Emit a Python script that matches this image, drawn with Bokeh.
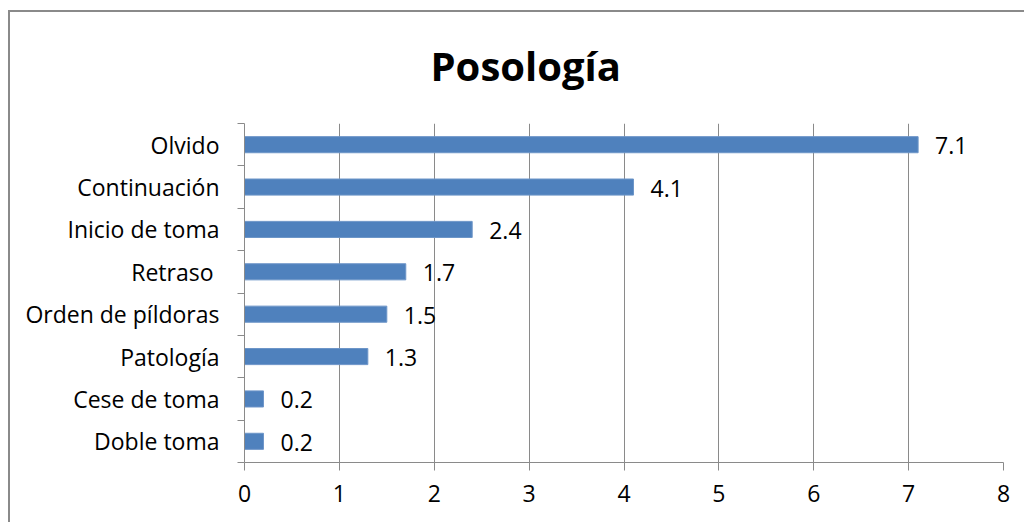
import numpy as np
from bokeh.plotting import figure
from bokeh.models import Range1d, FixedTicker, ColumnDataSource, InlineStyleSheet
from bokeh.core.properties import value
from bokeh.embed import file_html
from bokeh.resources import INLINE

categories = ["Olvido", "Continuación", "Inicio de toma", "Retraso ", "Orden de píldoras",
              "Patología", "Cese de toma", "Doble toma"]
values = [7.1, 4.1, 2.4, 1.7, 1.5, 1.3, 0.2, 0.2]
value_labels = ["7.1", "4.1", "2.4", "1.7", "1.5", "1.3", "0.2", "0.2"]
x_ticks = [0, 1, 2, 3, 4, 5, 6, 7, 8]

FONT = "Open Sans"
n = len(categories)
ypos = (np.arange(n)[::-1] + 0.5).tolist()

src = ColumnDataSource(dict(y=ypos, v=values, lab=value_labels, cat=categories))

p = figure(width=1024, height=522, output_backend="svg", toolbar_location=None,
           x_range=Range1d(0, 8), y_range=Range1d(0, n),
           min_border_left=244, min_border_right=21, min_border_top=123, min_border_bottom=60,
           title="Posología")
p.outline_line_color = None
p.background_fill_color = None
p.border_fill_color = None
# chart-area border: left and top edges only (the rest lies outside the window)
p.stylesheets = [InlineStyleSheet(css="""
:host {
  background-color: white;
  background-image: linear-gradient(#8a8a8a, #8a8a8a), linear-gradient(#8a8a8a, #8a8a8a);
  background-size: 2px 100%, 100% 2px;
  background-position: 8px 10px, 8px 10px;
  background-repeat: no-repeat;
}
""")]

p.title.text_font = FONT
p.title.text_font_size = "40px"
p.title.text_font_style = "bold"
p.title.text_color = "black"
p.title.align = "left"
p.title.offset = 186
p.title.standoff = 62

p.hbar(y="y", right="v", left=0, height=0.38, source=src,
       fill_color="#4F81BD", line_color="#6d95c8", line_width=1)
p.text(x="v", y="y", text="lab", source=src, x_offset=17, y_offset=1,
       text_baseline="middle", text_align="left", text_font=value(FONT),
       text_font_size="23px", text_color="black")

# x axis
xa = p.xaxis[0]
xa.ticker = FixedTicker(ticks=x_ticks)
xa.axis_line_color = "#8a8a8a"
xa.major_tick_line_color = "#8a8a8a"
xa.major_tick_out = 8
xa.major_tick_in = 0
xa.minor_tick_line_color = None
xa.major_label_text_font = FONT
xa.major_label_text_font_size = "23px"
xa.major_label_text_color = "black"
xa.major_label_standoff = 14

# y axis
ya = p.yaxis[0]
ya.ticker = FixedTicker(ticks=ypos, minor_ticks=list(range(n + 1)))
ya.major_label_overrides = {y: c for y, c in zip(ypos, categories)}
ya.axis_line_color = "#8a8a8a"
ya.major_tick_line_color = None
ya.major_tick_out = 0
ya.major_tick_in = 0
ya.minor_tick_line_color = "#8a8a8a"
ya.minor_tick_out = 7
ya.minor_tick_in = 0
ya.major_label_text_font = FONT
ya.major_label_text_font_size = "23px"
ya.major_label_text_color = "black"
ya.major_label_standoff = 18

p.xgrid.ticker = FixedTicker(ticks=x_ticks)
p.xgrid.grid_line_color = "#8a8a8a"
p.xgrid.grid_line_width = 1
p.ygrid.grid_line_color = None

open("out.html", "w").write(file_html(p, INLINE))
